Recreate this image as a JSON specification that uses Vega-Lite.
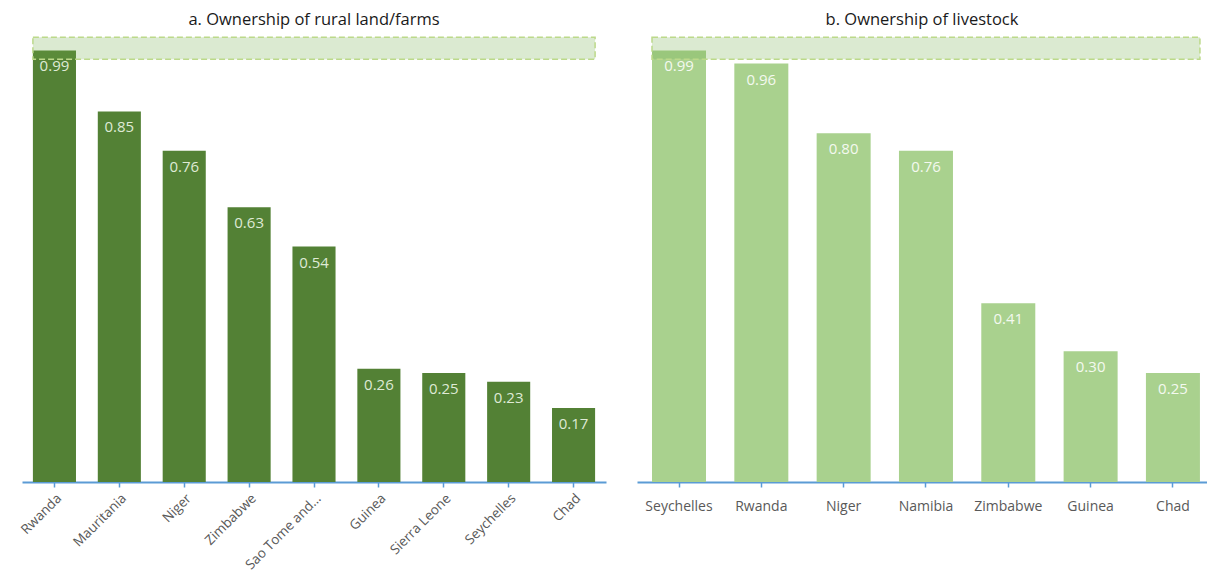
{
  "$schema": "https://vega.github.io/schema/vega-lite/v6.json",
  "padding": {"left": 18, "top": 11, "right": 0, "bottom": 0},
  "background": "white",
  "config": {
    "view": {"stroke": null},
    "font": "Open Sans",
    "concat": {"spacing": 31},
    "title": {"fontSize": 16.5, "fontWeight": "normal", "color": "#1a1a1a", "font": "Open Sans", "offset": 5},
    "axis": {
      "domainColor": "#5B9BD5", "domainWidth": 2, "tickColor": "#5B9BD5", "tickWidth": 1.5, "tickSize": 5,
      "labelColor": "#595959", "labelFontSize": 14, "labelFont": "Open Sans", "grid": false, "title": null
    }
  },
  "datasets": {
    "land": [
      {"country": "Rwanda", "value": 0.99},
      {"country": "Mauritania", "value": 0.85},
      {"country": "Niger", "value": 0.76},
      {"country": "Zimbabwe", "value": 0.63},
      {"country": "Sao Tome and Principe", "value": 0.54},
      {"country": "Guinea", "value": 0.26},
      {"country": "Sierra Leone", "value": 0.25},
      {"country": "Seychelles", "value": 0.23},
      {"country": "Chad", "value": 0.17}
    ],
    "livestock": [
      {"country": "Seychelles", "value": 0.99},
      {"country": "Rwanda", "value": 0.96},
      {"country": "Niger", "value": 0.80},
      {"country": "Namibia", "value": 0.76},
      {"country": "Zimbabwe", "value": 0.41},
      {"country": "Guinea", "value": 0.30},
      {"country": "Chad", "value": 0.25}
    ],
    "bandA": [{"lo": 0.97, "hi": 1.02, "first": "Rwanda", "last": "Chad"}],
    "bandB": [{"lo": 0.97, "hi": 1.02, "first": "Seychelles", "last": "Chad"}]
  },
  "hconcat": [
    {
      "width": 584,
      "height": 449,
      "title": {"text": "a. Ownership of rural land/farms"},
      "layer": [
        {
          "data": {"name": "land"},
          "mark": {"type": "bar", "color": "#538135"},
          "encoding": {
            "x": {"field": "country", "type": "nominal",
              "scale": {"domain": ["Rwanda","Mauritania","Niger","Zimbabwe","Sao Tome and Principe","Guinea","Sierra Leone","Seychelles","Chad"], "paddingInner": 0.336, "paddingOuter": 0.168},
              "axis": {"labelAngle": -45, "labelLimit": 200, "labelPadding": 4, "labelFontSize": 13.5,
                "labelExpr": "datum.label == 'Sao Tome and Principe' ? 'Sao Tome and…' : datum.label"}},
            "y": {"field": "value", "type": "quantitative", "scale": {"domain": [0, 1.03], "nice": false, "zero": true}, "axis": null}
          }
        },
        {
          "data": {"name": "land"},
          "mark": {"type": "text", "baseline": "top", "dy": 9, "fontSize": 15, "color": "#dfead5", "font": "Open Sans"},
          "encoding": {
            "x": {"field": "country", "type": "nominal"},
            "y": {"field": "value", "type": "quantitative"},
            "text": {"field": "value", "type": "quantitative", "format": ".2f"}
          }
        },
        {
          "data": {"name": "bandA"},
          "mark": {"type": "rect", "fill": "#70AD47", "fillOpacity": 0.25, "stroke": "#bcd98a", "strokeDash": [6, 3], "strokeWidth": 1.5},
          "encoding": {
            "x": {"field": "first", "type": "nominal", "bandPosition": 0},
            "x2": {"field": "last", "bandPosition": 1},
            "y": {"field": "hi", "type": "quantitative"},
            "y2": {"field": "lo"}
          }
        }
      ]
    },
    {
      "width": 570,
      "height": 449,
      "title": {"text": "b. Ownership of livestock"},
      "layer": [
        {
          "data": {"name": "livestock"},
          "mark": {"type": "bar", "color": "#A9D18E"},
          "encoding": {
            "x": {"field": "country", "type": "nominal",
              "scale": {"domain": ["Seychelles","Rwanda","Niger","Namibia","Zimbabwe","Guinea","Chad"], "paddingInner": 0.344, "paddingOuter": 0.134, "align": 0.68},
              "axis": {"labelAngle": 0, "labelPadding": 12}},
            "y": {"field": "value", "type": "quantitative", "scale": {"domain": [0, 1.03], "nice": false, "zero": true}, "axis": null}
          }
        },
        {
          "data": {"name": "livestock"},
          "mark": {"type": "text", "baseline": "top", "dy": 9, "fontSize": 15, "color": "#f4f9f0", "font": "Open Sans"},
          "encoding": {
            "x": {"field": "country", "type": "nominal"},
            "y": {"field": "value", "type": "quantitative"},
            "text": {"field": "value", "type": "quantitative", "format": ".2f"}
          }
        },
        {
          "data": {"name": "bandB"},
          "mark": {"type": "rect", "fill": "#70AD47", "fillOpacity": 0.25, "stroke": "#bcd98a", "strokeDash": [6, 3], "strokeWidth": 1.5},
          "encoding": {
            "x": {"field": "first", "type": "nominal", "bandPosition": 0},
            "x2": {"field": "last", "bandPosition": 1},
            "y": {"field": "hi", "type": "quantitative"},
            "y2": {"field": "lo"}
          }
        }
      ]
    }
  ]
}
